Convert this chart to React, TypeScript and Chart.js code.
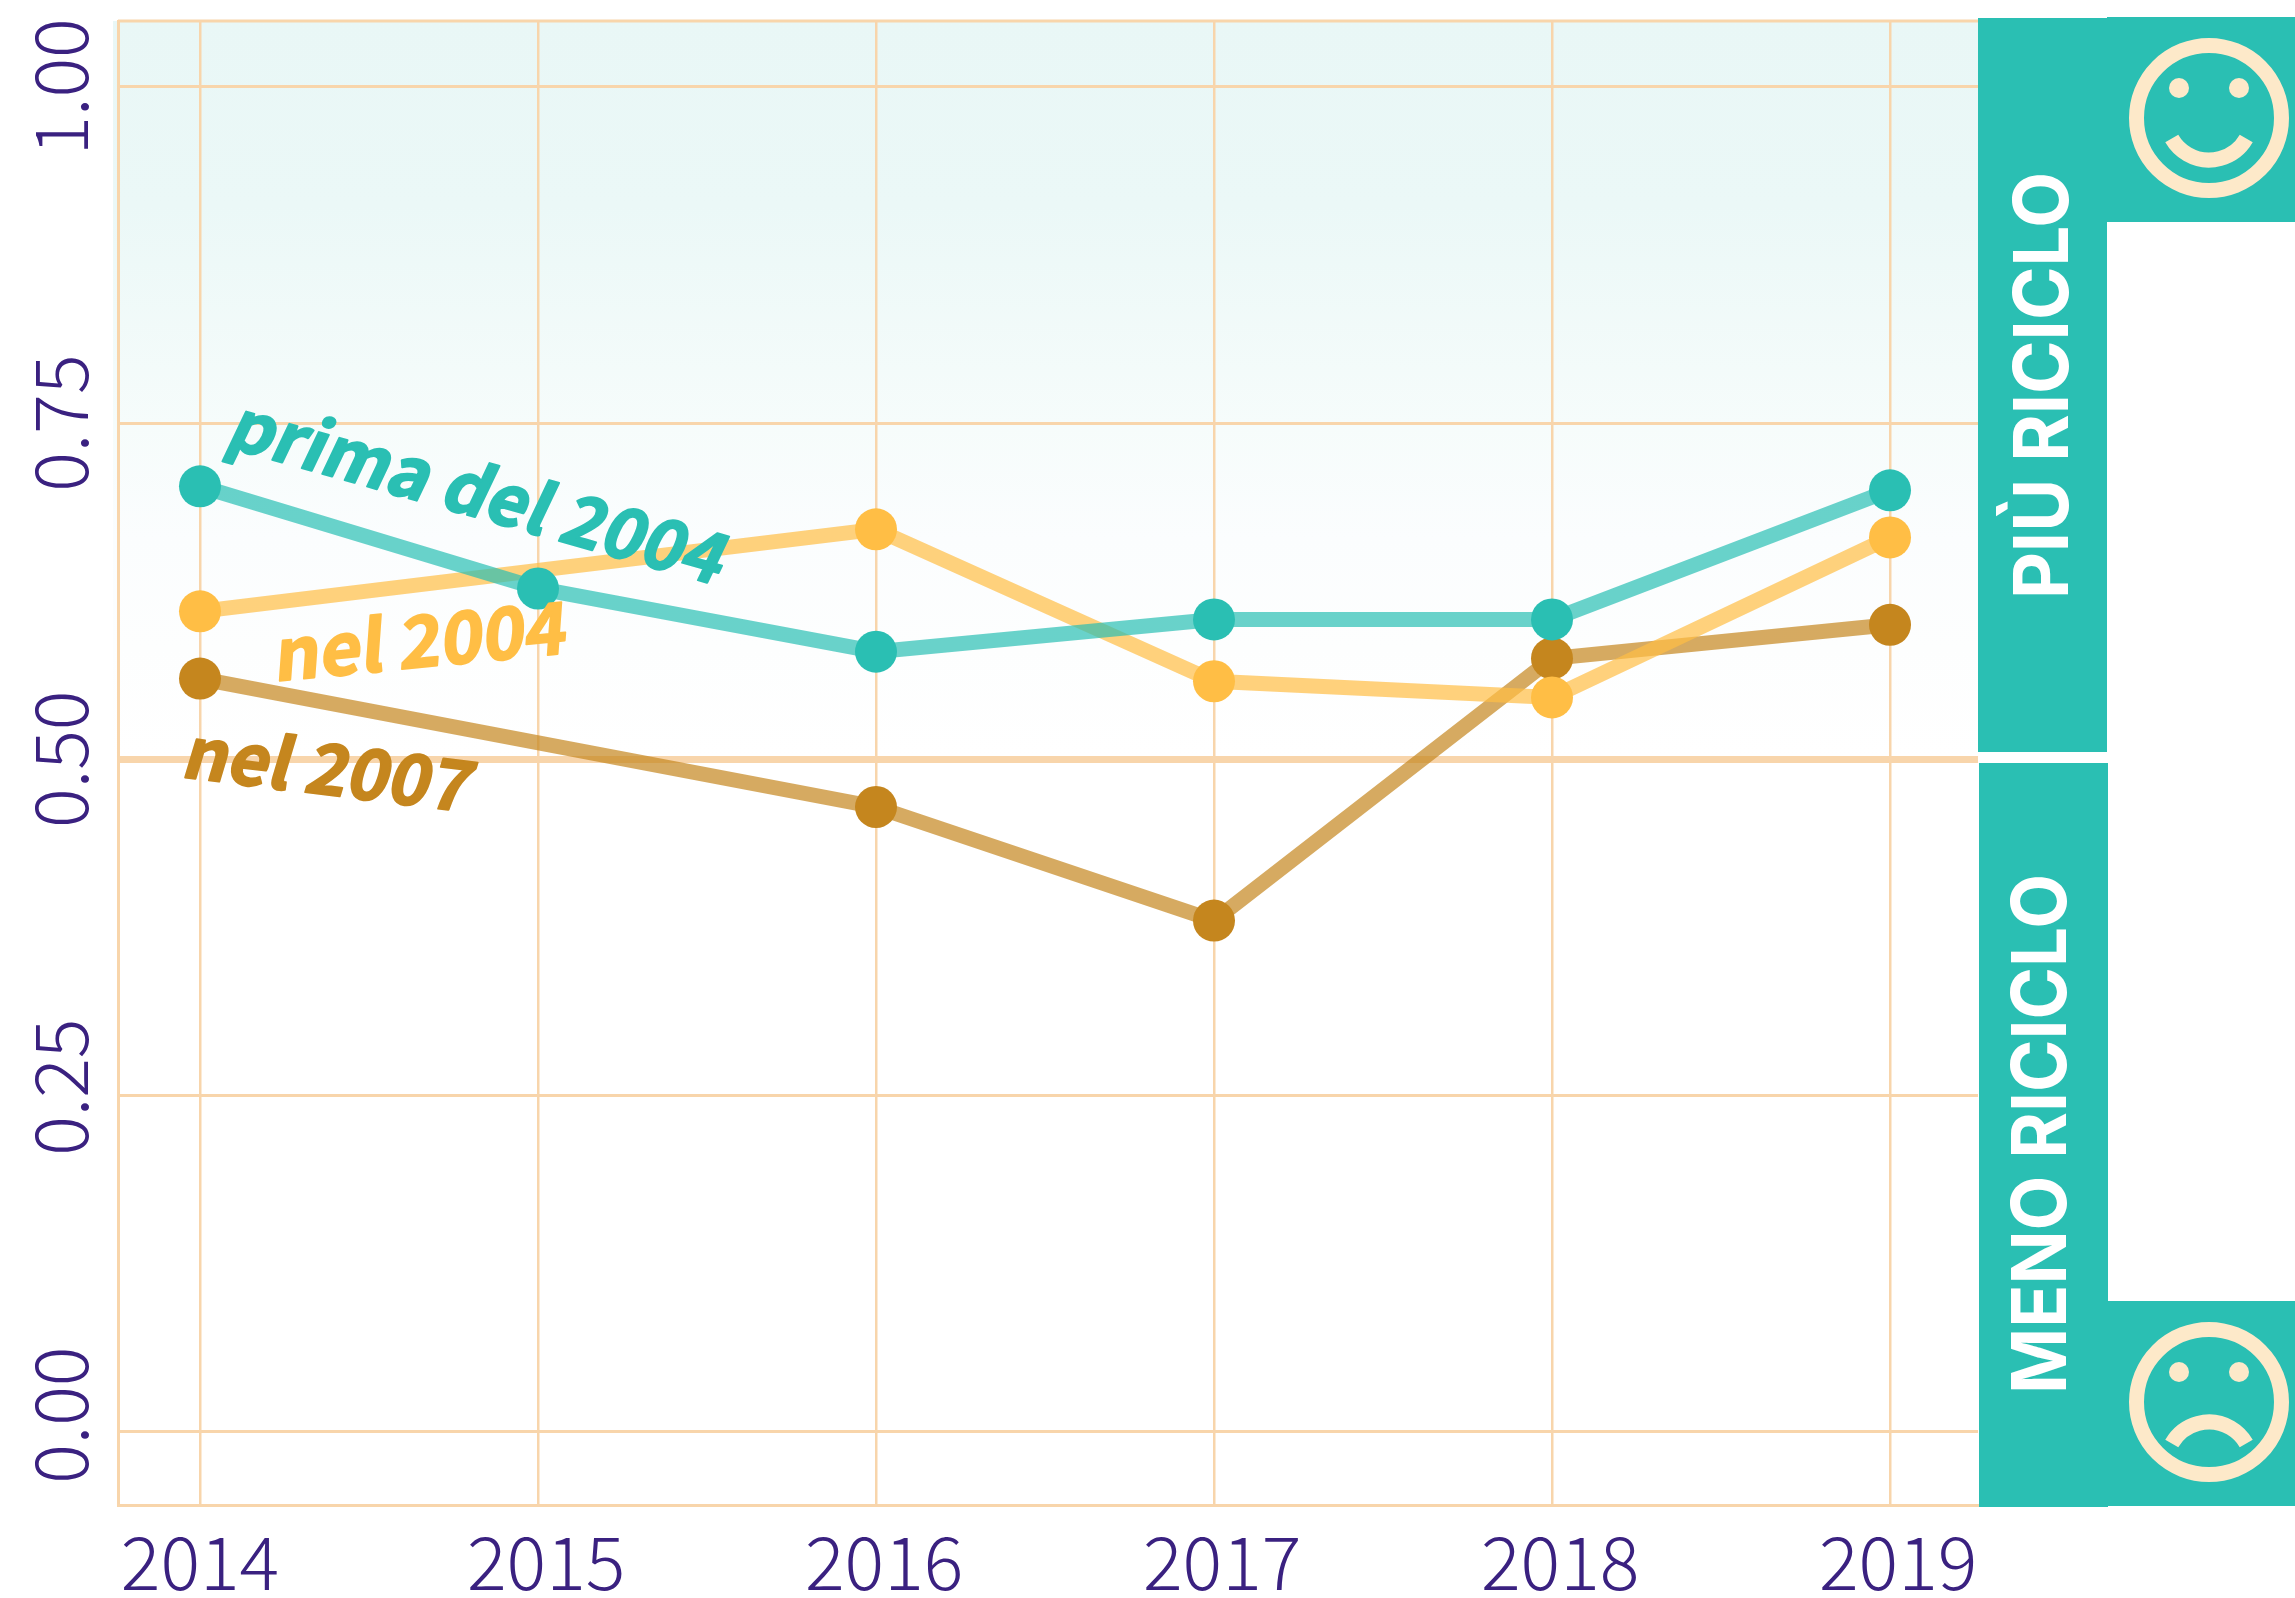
import React, { useEffect, useRef } from "react";
import { Chart, registerables } from "chart.js";

Chart.register(...registerables);

const years = [2014, 2015, 2016, 2017, 2018, 2019];
const yTicks = [0, 0.25, 0.5, 0.75, 1];
const primaDel2004 = [0.703, 0.627, 0.58, 0.604, 0.604, 0.7];
const nel2004 = [0.61, null, 0.671, 0.558, 0.546, 0.665];
const nel2007 = [0.56, null, 0.4645, 0.38, 0.575, 0.6];

const TEAL = "#2abfb3";
const YELLOW = "#ffbe45";
const BROWN = "#c5861e";
const PURPLE = "#3a2180";
const GRID = "#f8d5ab";
const CREAM = "#fde9c9";
const TICK_FONT = '"Noto Sans CJK JP", "Noto Sans", sans-serif';

const rgba = (hex: string, a: number) => {
  const n = parseInt(hex.slice(1), 16);
  return `rgba(${n >> 16},${(n >> 8) & 255},${n & 255},${a})`;
};

const backgroundPlugin = {
  id: "background",
  beforeDraw(chart: any) {
    const { ctx, chartArea: a, scales } = chart;
    const y50 = scales.y.getPixelForValue(0.5);
    const g = ctx.createLinearGradient(0, a.top, 0, y50);
    g.addColorStop(0, "#e9f7f6");
    g.addColorStop(0.25, "#ebf8f7");
    g.addColorStop(0.55, "#f6fcfb");
    g.addColorStop(0.7, "#fbfdfe");
    g.addColorStop(0.85, "#fdfefe");
    g.addColorStop(1, "#ffffff");
    ctx.save();
    ctx.fillStyle = g;
    ctx.fillRect(a.left - 5, a.top, a.right - a.left + 5, y50 - a.top);
    ctx.strokeStyle = GRID;
    ctx.lineWidth = 3;
    ctx.beginPath();
    ctx.moveTo(a.left, a.top);
    ctx.lineTo(a.right, a.top);
    ctx.stroke();
    ctx.restore();
  },
};

const seriesLabels = [
  { text: "prima del 2004", color: TEAL, x: 2014.07, y: 0.733, rot: 15.8, size: 70 },
  { text: "nel 2004", color: YELLOW, x: 2014.22, y: 0.558, rot: -5.5, size: 71 },
  { text: "nel 2007", color: BROWN, x: 2013.94, y: 0.487, rot: 7, size: 70 },
];

const labelPlugin = {
  id: "seriesLabels",
  afterDatasetsDraw(chart: any) {
    const { ctx, scales } = chart;
    seriesLabels.forEach((l) => {
      ctx.save();
      ctx.translate(scales.x.getPixelForValue(l.x), scales.y.getPixelForValue(l.y));
      ctx.rotate((l.rot * Math.PI) / 180);
      ctx.transform(1, 0, -0.17, 1, 0, 0);
      ctx.font = `700 ${l.size}px "Noto Sans CJK JP", "Noto Sans", sans-serif`;
      ctx.fillStyle = l.color;
      ctx.strokeStyle = l.color;
      ctx.lineWidth = 2;
      ctx.lineJoin = "round";
      ctx.textBaseline = "alphabetic";
      ctx.fillText(l.text, 0, 0);
      ctx.strokeText(l.text, 0, 0);
      ctx.restore();
    });
  },
};

function face(ctx: CanvasRenderingContext2D, cx: number, cy: number, happy: boolean) {
  ctx.strokeStyle = CREAM;
  ctx.fillStyle = CREAM;
  ctx.lineWidth = 15;
  ctx.lineCap = "butt";
  ctx.beginPath();
  ctx.arc(cx, cy, 72.5, 0, Math.PI * 2);
  ctx.stroke();
  [-30, 30].forEach((dx) => {
    ctx.beginPath();
    ctx.arc(cx + dx, cy - 30, 10, 0, Math.PI * 2);
    ctx.fill();
  });
  ctx.beginPath();
  if (happy) ctx.arc(cx, cy - 1, 43, Math.PI / 6, (5 * Math.PI) / 6);
  else ctx.arc(cx, cy + 63, 43, (7 * Math.PI) / 6, (11 * Math.PI) / 6);
  ctx.stroke();
}

function sideText(ctx: CanvasRenderingContext2D, text: string, x: number, bottom: number, length: number) {
  ctx.save();
  ctx.translate(x, bottom);
  ctx.rotate(-Math.PI / 2);
  ctx.font = '700 76px "Inter", sans-serif';
  const w = ctx.measureText(text).width;
  ctx.scale(length / w, 1);
  ctx.fillStyle = "#ffffff";
  ctx.textBaseline = "alphabetic";
  ctx.fillText(text, 0, 0);
  ctx.restore();
}

const panelPlugin = {
  id: "panels",
  afterDraw(chart: any) {
    const { ctx } = chart;
    ctx.save();
    ctx.fillStyle = TEAL;
    ctx.fillRect(1978, 18, 129, 734);
    ctx.fillRect(2107, 17, 188, 205);
    ctx.fillRect(1979, 763, 129, 744);
    ctx.fillRect(2108, 1301, 187, 205);
    sideText(ctx, "PIÙ RICICLO", 2068, 599, 427);
    sideText(ctx, "MENO RICICLO", 2066, 1394, 520);
    face(ctx, 2209, 118, true);
    face(ctx, 2209, 1402, false);
    ctx.restore();
  },
};

const series = [
  { label: "prima del 2004", data: primaDel2004, color: TEAL },
  { label: "nel 2004", data: nel2004, color: YELLOW },
  { label: "nel 2007", data: nel2007, color: BROWN },
];

export default function App() {
  const ref = useRef<HTMLCanvasElement>(null);
  useEffect(() => {
    if (!ref.current) return;
    const chart = new Chart(ref.current, {
      type: "line",
      data: {
        datasets: series.map((s) => ({
          label: s.label,
          data: years.map((yr, i) => ({ x: yr, y: s.data[i] })),
          borderColor: rgba(s.color, 0.7),
          backgroundColor: s.color,
          pointBackgroundColor: s.color,
          pointBorderWidth: 0,
          pointRadius: s.data.map((v) => (v === null ? 0 : 21)),
          borderWidth: 15,
          tension: 0,
          spanGaps: true,
          fill: false,
        })),
      },
      options: {
        animation: false,
        responsive: false,
        devicePixelRatio: 1,
        layout: { padding: { top: 20, right: 317, left: 0, bottom: 0 } },
        plugins: { legend: { display: false }, tooltip: { enabled: false } },
        scales: {
          x: {
            type: "linear",
            min: 2014 - 82 / 338,
            max: 2019 + 88 / 338,
            afterBuildTicks: (s: any) => { s.ticks = years.map((v) => ({ value: v })); },
            afterFit: (s: any) => { s.height = 93; s.paddingLeft = 0; s.paddingRight = 0; },
            grid: { color: GRID, lineWidth: 2.5, drawTicks: false },
            border: { color: GRID, width: 3 },
            ticks: {
              color: PURPLE,
              font: { family: TICK_FONT, size: 74, weight: 200 },
              padding: 12,
              maxRotation: 0,
              minRotation: 0,
              autoSkip: false,
              callback: (v: any) => (v === 2014 ? String(v) : " " + v),
            },
          },
          y: {
            type: "linear",
            min: -73.5 / 1345.5,
            max: 1 + 66 / 1345.5,
            afterBuildTicks: (s: any) => { s.ticks = yTicks.map((v) => ({ value: v })); },
            afterFit: (s: any) => { s.width = 118; s.paddingTop = 0; s.paddingBottom = 0; },
            grid: {
              color: GRID,
              lineWidth: (c: any) => (c.tick && c.tick.value === 0.5 ? 7 : 3),
              drawTicks: false,
            },
            border: { color: GRID, width: 3 },
            ticks: {
              color: PURPLE,
              font: { family: TICK_FONT, size: 74, weight: 200 },
              padding: -27,
              minRotation: 90,
              maxRotation: 90,
              autoSkip: false,
              crossAlign: "center",
              callback: (v: any) => {
                const s = Number(v).toFixed(2);
                return v === 0 ? "  " + s : v === 0.25 ? " " + s : s;
              },
            },
          },
        },
      },
      plugins: [backgroundPlugin, labelPlugin, panelPlugin],
    } as any);
    return () => chart.destroy();
  }, []);
  return (
    <canvas
      ref={ref}
      width={2295}
      height={1598}
      style={{ position: "absolute", left: 0, top: 0, width: 2295, height: 1598, display: "block" }}
    />
  );
}
